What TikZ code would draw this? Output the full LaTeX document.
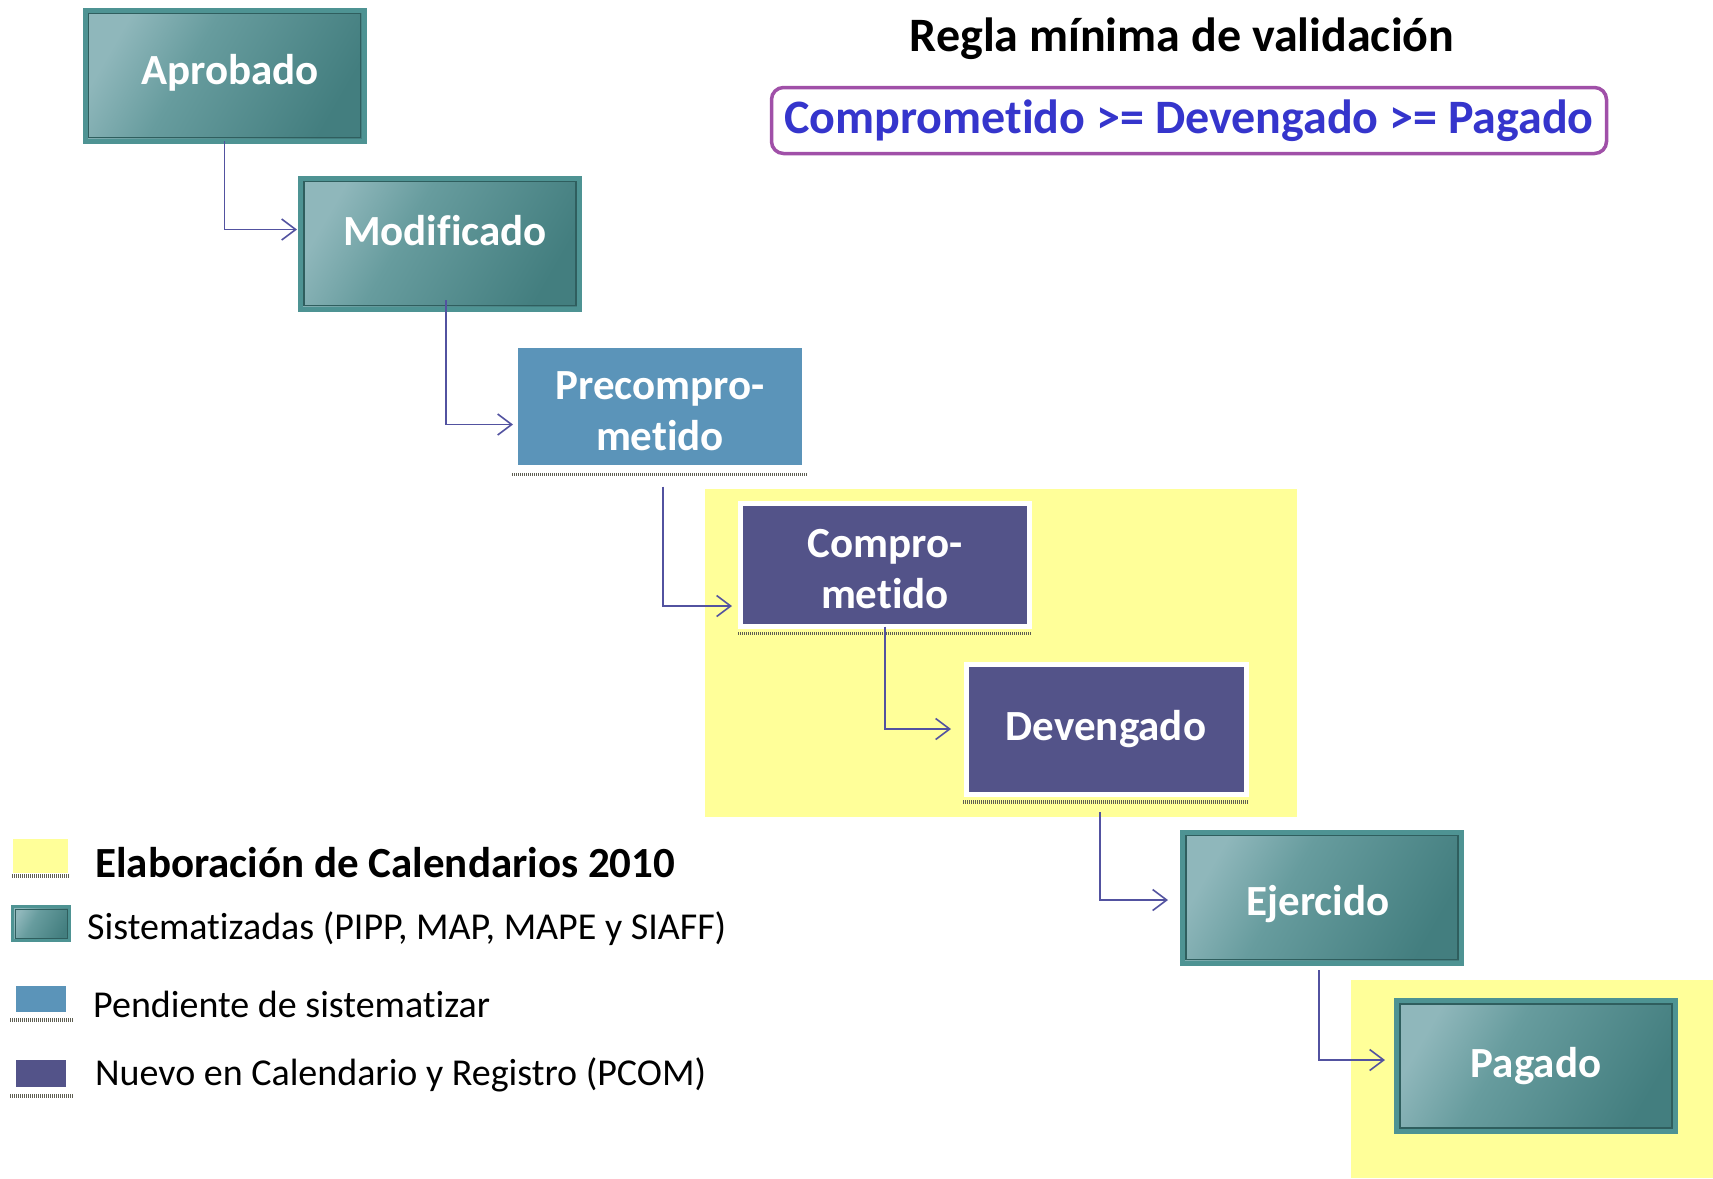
\documentclass[tikz,border=0pt]{standalone}
\usepackage{fontspec}
\setmainfont{Carlito}[Ligatures={NoCommon,NoContextual}]
\usetikzlibrary{arrows.meta}
\definecolor{tealL}{HTML}{8FB7BB}
\definecolor{tealM}{HTML}{679C9E}
\definecolor{tealD}{HTML}{437E7F}
\definecolor{tealE}{HTML}{4E9393}
\definecolor{tealIn}{HTML}{2F5E5E}
\definecolor{precB}{HTML}{5B94B9}
\definecolor{purpB}{HTML}{535389}
\definecolor{yelC}{HTML}{FFFF99}
\definecolor{connC}{HTML}{5252A0}
\definecolor{ruleT}{HTML}{3535CC}
\definecolor{ruleC}{HTML}{A050A8}
\definecolor{hatchC}{HTML}{5E5E52}
\pgfdeclarehorizontalshading{tealsh}{100bp}{color(0bp)=(tealL); color(25bp)=(tealL); color(42bp)=(tealM); color(75bp)=(tealD); color(100bp)=(tealD)}
\newcommand\bxfont{\fontsize{43}{51}\selectfont\bfseries}
\newcommand\ttlfont{\fontsize{48}{56}\selectfont\bfseries}
\newcommand\lgbfont{\fontsize{43}{50}\selectfont\bfseries}
\newcommand\lgfont{\fontsize{38}{44}\selectfont}
\newcommand\shifttxt[2]{\raisebox{#1}[32pt][10pt]{#2}}
\begin{document}
\begin{tikzpicture}[x=1pt,y=-1pt,
  tealbox/.style={draw=tealE, line width=5pt, shading=tealsh, shading angle=-30,
    minimum width=279pt, minimum height=131pt, inner sep=0pt,
    outer sep=0pt, text=white, font=\bxfont, align=center,
    path picture={\draw[tealIn, line width=1.6pt]
      ([shift={(3.5pt,3.5pt)}]path picture bounding box.south west) rectangle
      ([shift={(-3.5pt,-3.5pt)}]path picture bounding box.north east);}},
  precbox/.style={fill=precB, draw=white, line width=3pt, minimum width=287pt,
    minimum height=120pt, inner sep=0pt, outer sep=0pt, text=white, font=\bxfont, align=center},
  purpbox/.style={fill=purpB, draw=white, line width=5pt, inner sep=0pt, outer sep=0pt,
    text=white, font=\bxfont, align=center},
  hatch/.style={draw=hatchC, line width=3.5pt, dash pattern=on 1pt off 1pt},
  conn/.style={draw=connC, line width=1.6pt, -{Straight Barb[length=14pt,width=21pt,line width=1.6pt]}},
  legtxt/.style={anchor=west, inner sep=0pt, font=\lgfont, text=black},
  tealsw/.style={draw=tealE, line width=3pt, shading=tealsh, shading angle=-30,
    minimum width=57pt, minimum height=34pt, inner sep=0pt,
    path picture={\draw[tealIn, line width=1pt]
      ([shift={(2.5pt,2.5pt)}]path picture bounding box.south west) rectangle
      ([shift={(-2.5pt,-2.5pt)}]path picture bounding box.north east);}}
]
\useasboundingbox (0,0) rectangle (1713,1178);
\fill[white] (0,0) rectangle (1713,1178);
% highlighted regions
\fill[yelC] (705,489) rectangle (1297,817);
\fill[yelC] (1351,980) rectangle (1713,1178);

% title and rule
\node[font=\ttlfont, inner sep=0pt] (title) at (1182,39) {Regla mínima de validación};
\node[draw=ruleC, line width=3.5pt, rounded corners=12pt, minimum width=835pt,
  minimum height=66pt, inner sep=0pt, text=ruleT, font=\ttlfont] (rule) at (1189,120.5)
  {Comprometido >= Devengado >= Pagado};

% boxes
\node[tealbox] (apr) at (224.5,75.5) {\shifttxt{2.5pt}{\hspace*{11pt}Aprobado}};
\node[tealbox] (mod) at (440,243.5) {\shifttxt{9.5pt}{\hspace*{10pt}Modificado}};
\node[precbox] (pre) at (660,406.5) {\rule{0pt}{38pt}Precompro-\\metido};
\node[purpbox, minimum width=289pt, minimum height=123pt] (com) at (885,565) {\rule{0pt}{37pt}Compro-\\metido};
\node[purpbox, minimum width=280pt, minimum height=130pt] (dev) at (1106,729) {Devengado};
\node[tealbox] (eje) at (1322,897.5) {\shifttxt{-7pt}{Ejercido\hspace*{8pt}}};
\node[tealbox] (pag) at (1536,1066) {Pagado};

% hatched shadows
\draw[hatch] ([xshift=-4.5pt,yshift=-8pt]pre.south west) -- ([xshift=4.5pt,yshift=-8pt]pre.south east);
\draw[hatch] ([xshift=-2.5pt,yshift=-7pt]com.south west) -- ([xshift=2.5pt,yshift=-7pt]com.south east);
\draw[hatch] ([xshift=-3pt,yshift=-8pt]dev.south west) -- ([xshift=3pt,yshift=-8pt]dev.south east);

% connectors
\draw[conn, shorten >=3.5pt] (apr.south) |- ([yshift=14pt]mod.west);
\draw[conn, shorten <=-9pt, shorten >=3.5pt] ([xshift=6pt]mod.south) |- ([yshift=-18pt]pre.west);
\draw[conn, shorten <=20pt, shorten >=8.5pt] ([xshift=3pt]pre.south) |- ([yshift=-41pt]com.west);
\draw[conn, shorten >=15pt] (com.south) |- (dev.west);
\draw[conn, shorten <=18pt, shorten >=14.5pt] ([xshift=-6pt]dev.south) |- ([yshift=-2.5pt]eje.west);
\draw[conn, shorten <=7pt, shorten >=11.5pt] ([xshift=-3pt]eje.south) |- ([yshift=6pt]pag.west);

% legend
\fill[yelC] (13,839) rectangle (68,873);
\draw[hatch] (12,876) -- (69,876);
\node[legtxt, font=\lgbfont] (l1) at (95,863) {Elaboración de Calendarios 2010};
\node[tealsw] (tsw) at (41,923.5) {};
\node[legtxt] (l2) at (87,929) {Sistematizadas (PIPP, MAP, MAPE y SIAFF)};
\node[fill=precB, draw=white, line width=1.5pt, minimum width=51pt, minimum height=27pt, inner sep=0pt] (psw) at (41,999) {};
\draw[hatch] (10,1020) -- (73,1020);
\node[legtxt] (l3) at (93,1004) {Pendiente de sistematizar};
\node[fill=purpB, draw=white, line width=1.5pt, minimum width=51pt, minimum height=28pt, inner sep=0pt] (usw) at (41,1073.5) {};
\draw[hatch] (10,1096) -- (73,1096);
\node[legtxt] (l4) at (95,1075) {Nuevo en Calendario y Registro (PCOM)};
\end{tikzpicture}
\end{document}
